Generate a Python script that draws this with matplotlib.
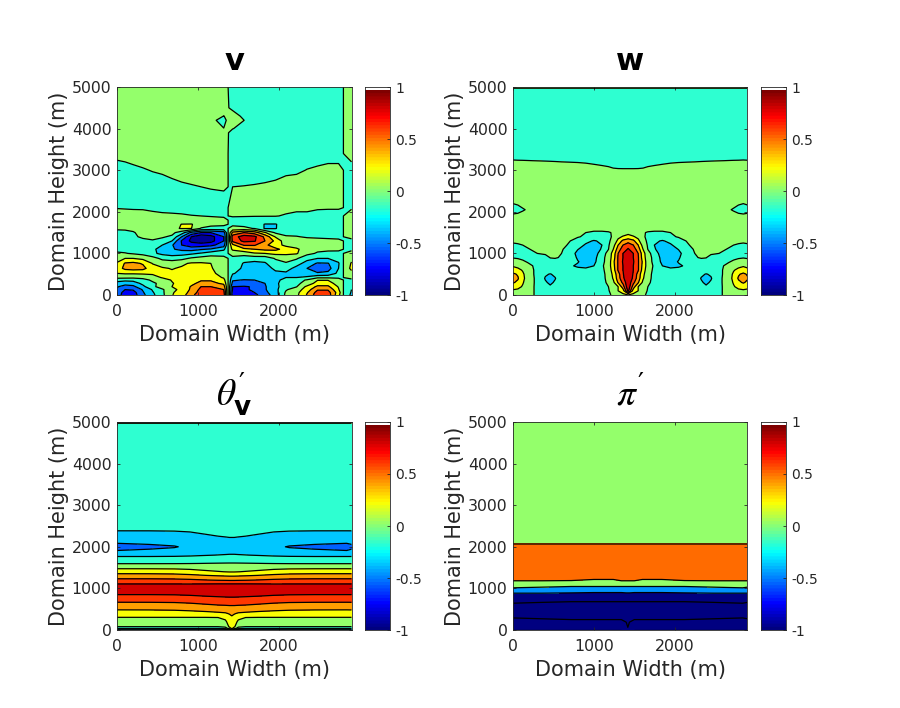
import numpy as np
import matplotlib
matplotlib.use("Agg")
import matplotlib.pyplot as plt
from matplotlib.colors import ListedColormap

plt.rcParams['font.family'] = ['DejaVu Sans']
plt.rcParams['mathtext.fontset'] = 'custom'
plt.rcParams['mathtext.it'] = 'STIXGeneral:italic'
plt.rcParams['mathtext.rm'] = 'DejaVu Sans'
plt.rcParams['mathtext.bf'] = 'DejaVu Sans:bold'

# values, one row per height
v_x = [0, 100, 200, 320, 440, 560, 680, 800, 920, 1040, 1160, 1320, 1374,
       1430, 1570, 1700, 1830, 1960, 2090, 2220, 2350, 2480, 2610, 2740, 2800, 2900]
v_z = [0, 60, 130, 200, 280, 360, 420, 520, 640, 760, 880, 1000, 1100, 1200, 1300, 1400,
       1500, 1600, 1700, 1800, 1900, 2100, 2600, 3000, 3400, 3900, 4000, 4200, 4300, 4500, 5000]
v_vals = [
    [-.5, -.7, -.7, -.45, -.25, -.05, .19, .3, .55, .72, .74, .7, 0, -.72, -.72, -.65, -.5, -.3, .05, .15, .42, .72, .72, .25, 0, -.25],
    [-.48, -.68, -.68, -.42, -.22, -.04, .18, .28, .48, .7, .72, .66, 0, -.68, -.68, -.6, -.45, -.28, .03, .14, .38, .68, .68, .3, 0, -.22],
    [-.42, -.6, -.58, -.38, -.18, -.03, .15, .25, .44, .66, .66, .6, 0, -.62, -.64, -.56, -.42, -.26, -.02, .1, .3, .58, .58, .22, 0, -.2],
    [-.38, -.48, -.45, -.25, -.05, .1, .2, .27, .42, .6, .6, .5, 0, -.6, -.62, -.58, -.42, -.25, -.1, -.01, .25, .44, .44, .18, 0, -.15],
    [-.28, -.32, -.3, -.15, -.03, .05, .19, .25, .35, .46, .46, .36, 0, -.46, -.46, -.44, -.4, -.25, -.08, -.03, .05, .3, .3, .1, 0, -.08],
    [-.12, -.15, -.14, -.06, .03, .14, .21, .22, .3, .38, .38, .26, 0, -.38, -.41, -.4, -.3, -.24, -.15, -.08, .02, .19, .19, .05, 0, -.03],
    [.05, .05, .04, .05, .15, .21, .22, .24, .28, .3, .3, .18, 0, -.3, -.33, -.3, -.28, -.24, -.2, -.2, -.16, -.03, -.03, -.02, 0, .04],
    [.2, .22, .22, .23, .22, .22, .23, .25, .28, .28, .26, .1, 0, -.18, -.28, -.3, -.28, -.22, -.24, -.28, -.34, -.38, -.35, -.15, 0, .12],
    [.3, .45, .48, .46, .28, .22, .19, .22, .26, .26, .22, .08, 0, -.1, -.24, -.27, -.24, -.18, -.1, -.28, -.4, -.5, -.48, -.2, 0, .26],
    [.22, .42, .45, .38, .19, .12, .1, .17, .22, .22, .2, .05, 0, -.05, -.22, -.25, -.22, -.08, -.02, -.1, -.3, -.42, -.41, -.22, 0, .22],
    [.12, .2, .2, .15, .08, -.05, -.08, -.06, .03, .08, .1, .03, 0, -.02, -.1, -.12, -.12, .02, .08, .02, -.12, -.2, -.2, -.12, 0, .15],
    [.03, .01, -.02, -.06, -.16, -.25, -.3, -.28, -.24, -.18, -.1, -.04, 0, .03, .08, .18, .2, .25, .24, .22, .05, -.02, -.04, -.03, 0, .05],
    [-.06, -.06, -.08, -.12, -.15, -.3, -.38, -.45, -.48, -.42, -.38, -.25, 0, .25, .35, .4, .45, .45, .32, .24, .08, .04, .03, .02, 0, -.03],
    [-.1, -.1, -.1, -.1, -.12, -.2, -.38, -.6, -.7, -.7, -.65, -.5, 0, .35, .62, .62, .45, .28, .15, .09, .07, .06, .05, .05, 0, -.05],
    [-.07, -.06, -.05, -.03, -.01, -.06, -.2, -.62, -.85, -.92, -.88, -.6, 0, .65, .85, .82, .6, .35, .08, .06, .07, .06, .05, .04, 0, -.04],
    [-.05, -.04, -.02, .02, .03, .02, -.03, -.4, -.8, -.95, -.88, -.6, 0, .7, .9, .85, .55, .18, .01, .01, -.02, -.03, -.04, -.05, 0, .04],
    [-.04, -.03, -.01, .04, .06, .08, .05, -.1, -.45, -.6, -.6, -.5, 0, .45, .6, .5, .22, -.03, -.03, -.06, -.06, -.06, -.05, -.05, 0, .03],
    [.02, .02, .03, .06, .1, .12, .17, .21, .205, -.02, -.05, -.06, 0, .05, .04, -.01, -.22, -.21, -.1, -.1, -.1, -.08, -.07, -.06, 0, .03],
    [.06, .06, .07, .09, .11, .12, .13, .205, .21, .12, .04, .03, 0, -.03, -.05, -.1, -.21, -.21, -.12, -.12, -.11, -.1, -.09, -.08, 0, .05],
    [.08, .08, .08, .08, .07, .07, .06, .06, .05, .04, .03, .02, 0, -.02, -.03, -.05, -.06, -.07, -.08, -.08, -.08, -.08, -.08, -.08, 0, .06],
    [.04, .04, .035, .03, .025, .02, .015, .01, .003, 0, -.005, -.01, 0, .005, .005, .005, .005, .005, -.01, -.02, -.03, -.03, -.04, -.04, 0, .04],
    [-.005, -.008, -.01, -.01, -.02, -.03, -.03, -.03, -.03, -.04, -.04, -.04, 0, .03, .03, .03, .03, .03, .03, .02, .03, .01, .01, .01, 0, -.01],
    [-.03, -.03, -.03, -.03, -.03, -.03, -.03, -.02, -.01, 0, .005, .01, 0, 0, .002, .005, .01, .02, .03, .03, .03, .03, .03, .03, 0, -.03],
    [-.03, -.02, -.01, -.005, .003, .01, .03, .05, .06, .06, .06, .06, 0, -.03, -.03, -.03, -.03, -.03, -.015, -.01, .002, .01, .02, .02, 0, -.02],
    [.02, .02, .02, .03, .03, .03, .03, .03, .03, .03, .03, .03, 0, -.03, -.03, -.03, -.03, -.03, -.03, -.03, -.03, -.03, -.03, -.03, 0, .02],
    [.03, .03, .03, .03, .03, .03, .03, .03, .03, .03, .03, .02, .002, -.02, -.03, -.03, -.03, -.03, -.03, -.03, -.03, -.03, -.03, -.03, 0, .03],
    [.03, .03, .03, .03, .03, .03, .03, .03, .03, .03, .03, .002, .01, .002, -.02, -.03, -.03, -.03, -.03, -.03, -.03, -.03, -.03, -.03, 0, .03],
    [.03, .03, .03, .03, .03, .03, .03, .03, .03, .03, .02, -.028, .021, .03, .0005, -.03, -.03, -.03, -.03, -.03, -.03, -.03, -.03, -.03, 0, .03],
    [.03, .03, .03, .03, .03, .03, .03, .03, .03, .03, .03, -.001, .01, .02, -.01, -.03, -.03, -.03, -.03, -.03, -.03, -.03, -.03, -.03, 0, .03],
    [.03, .03, .03, .03, .03, .03, .03, .03, .03, .03, .03, .02, .002, -.01, -.03, -.03, -.03, -.03, -.03, -.03, -.03, -.03, -.03, -.03, 0, .03],
    [.02, .02, .02, .02, .02, .02, .02, .02, .02, .02, .02, .02, 0, -.02, -.02, -.02, -.02, -.02, -.02, -.02, -.02, -.02, -.02, -.02, 0, .02],
]

# w, theta and pi are symmetric, so only the left half is listed
w_x = [0, 60, 120, 180, 240, 300, 400, 460, 520, 600, 700, 800, 900, 1000, 1100, 1180, 1240, 1300, 1360, 1424]
w_z = [0, 100, 200, 300, 400, 500, 600, 700, 800, 900, 1000, 1100, 1200, 1300, 1400, 1500,
       1600, 1800, 1950, 2050, 2200, 3000, 3300, 4900, 5000]
w_vals = [
    [.12, .1, .07, .04, .01, -.02, -.1, -.12, -.1, -.08, -.07, -.07, -.07, -.07, -.05, -.02, .02, .08, .15, .2],
    [.17, .15, .12, .06, .015, -.03, -.12, -.16, -.12, -.08, -.07, -.07, -.07, -.07, -.05, -.01, .05, .2, .3, .85],
    [.28, .26, .18, .08, .02, -.04, -.14, -.18, -.13, -.08, -.07, -.07, -.08, -.07, -.05, 0, .08, .2, .5, .95],
    [.42, .36, .22, .1, .03, -.05, -.18, -.23, -.18, -.1, -.08, -.08, -.08, -.08, -.05, .03, .15, .42, .65, .95],
    [.48, .42, .26, .1, .03, -.05, -.215, -.26, -.21, -.1, -.09, -.09, -.09, -.09, -.05, .05, .22, .5, .75, .99],
    [.44, .38, .24, .09, .02, -.05, -.18, -.21, -.17, -.1, -.1, -.1, -.1, -.1, -.05, .06, .25, .52, .78, .99],
    [.3, .26, .18, .07, .015, -.04, -.1, -.1, -.09, -.1, -.13, -.16, -.16, -.14, -.04, .08, .3, .62, .8, .99],
    [.18, .14, .1, .04, .002, -.03, -.07, -.08, -.08, -.1, -.18, -.22, -.24, -.2, -.03, .1, .33, .62, .8, .99],
    [.08, .06, .02, -.01, -.03, -.05, -.06, -.05, -.04, -.06, -.12, -.19, -.26, -.25, -.05, .08, .35, .62, .82, .99],
    [-.01, -.02, -.03, -.03, -.04, -.05, -.05, .005, .01, -.01, -.1, -.22, -.28, -.27, -.06, .08, .3, .62, .8, .98],
    [-.04, -.04, -.04, -.03, -.01, 0, .02, .03, .03, 0, -.08, -.26, -.3, -.3, -.1, .07, .28, .6, .8, .95],
    [-.04, -.03, -.02, -.005, .005, .01, .02, .03, .03, .01, -.04, -.19, -.3, -.3, -.18, -.005, .2, .5, .7, .82],
    [-.01, -.005, 0, .01, .01, .02, .03, .03, .04, .04, -.02, -.1, -.23, -.28, -.2, -.02, .12, .4, .6, .72],
    [.01, .01, .02, .03, .04, .05, .06, .06, .06, .05, .005, -.05, -.14, -.22, -.16, -.03, .06, .25, .45, .5],
    [.03, .03, .03, .04, .05, .06, .07, .07, .07, .06, .03, .01, -.02, -.05, -.06, -.03, .02, .15, .22, .3],
    [.04, .04, .05, .05, .06, .07, .07, .07, .07, .07, .05, .04, 0, -.01, -.01, -.005, .005, .06, .1, .12],
    [.05, .05, .05, .05, .05, .05, .05, .05, .05, .05, .05, .05, .03, .02, .02, .02, .04, .06, .08, .08],
    [.05, .05, .05, .05, .05, .05, .05, .05, .05, .05, .05, .05, .05, .05, .05, .05, .05, .05, .05, .05],
    [-.001, .005, .02, .03, .04, .05, .05, .05, .05, .05, .05, .05, .05, .05, .05, .05, .05, .05, .05, .05],
    [-.04, -.03, -.01, .01, .03, .05, .05, .05, .05, .05, .05, .05, .05, .05, .05, .05, .05, .05, .05, .05],
    [.001, .01, .03, .04, .05, .05, .05, .05, .05, .05, .05, .05, .05, .05, .05, .05, .05, .05, .05, .05],
    [.045, .04, .038, .035, .032, .03, .027, .025, .023, .02, .018, .016, .013, .009, .006, .004, .002, .0015, .0014, .0014],
    [-.01, -.01, -.01, -.01, -.01, -.01, -.01, -.01, -.01, -.01, -.01, -.01, -.01, -.01, -.01, -.01, -.01, -.01, -.01, -.01],
    [-.05, -.05, -.05, -.05, -.05, -.05, -.05, -.05, -.05, -.05, -.05, -.05, -.05, -.05, -.05, -.05, -.05, -.05, -.05, -.05],
    [.02, .02, .02, .02, .02, .02, .02, .02, .02, .02, .02, .02, .02, .02, .02, .02, .02, .02, .02, .02],
]

th_x = [0, 400, 710, 900, 1100, 1250, 1340, 1390, 1420]
th_z = [0, 40, 80, 200, 300, 400, 500, 600, 700, 800, 900, 1000, 1100, 1200, 1300, 1400, 1500,
        1600, 1700, 1800, 1900, 2000, 2100, 2200, 2300, 2400, 2500, 4960, 5000]
th_vals = [
    [-.6, -.6, -.6, -.6, -.6, -.6, -.6, -.4, -.2],
    [-.15, -.15, -.15, -.15, -.15, -.15, -.1, .1, .25],
    [0, 0, 0, 0, 0, 0, .04, .23, .28],
    [.106, .106, .11, .11, .11, .12, .17, .27, .32],
    [.195, .195, .195, .195, .195, .2, .24, .32, .37],
    [.306, .31, .31, .32, .33, .36, .38, .42, .445],
    [.418, .42, .43, .45, .49, .51, .525, .53, .53],
    [.526, .528, .535, .55, .58, .6, .605, .61, .61],
    [.636, .637, .643, .66, .684, .7, .706, .71, .71],
    [.75, .75, .756, .77, .79, .8, .807, .81, .81],
    [.85, .85, .853, .86, .87, .875, .88, .88, .88],
    [.9, .9, .9, .9, .9, .9, .9, .9, .9],
    [.81, .81, .81, .81, .815, .82, .82, .82, .82],
    [.65, .65, .643, .63, .605, .59, .585, .58, .58],
    [.49, .49, .48, .46, .425, .405, .395, .39, .39],
    [.32, .317, .307, .28, .235, .21, .197, .19, .19],
    [.155, .154, .15, .14, .12, .108, .103, .1, .1],
    [-.01, -.01, -.008, -.004, .003, .007, .009, .01, .01],
    [-.12, -.12, -.117, -.11, -.1, -.095, -.09, -.09, -.09],
    [-.24, -.24, -.235, -.225, -.208, -.197, -.192, -.19, -.19],
    [-.39, -.37, -.36, -.345, -.29, -.26, -.25, -.24, -.24],
    [-.48, -.44, -.41, -.37, -.31, -.29, -.28, -.27, -.27],
    [-.385, -.37, -.36, -.34, -.3, -.28, -.265, -.26, -.26],
    [-.32, -.318, -.31, -.287, -.25, -.225, -.215, -.21, -.21],
    [-.255, -.253, -.247, -.23, -.2, -.18, -.175, -.17, -.17],
    [-.19, -.19, -.186, -.178, -.165, -.156, -.152, -.15, -.15],
    [-.16, -.16, -.157, -.15, -.14, -.135, -.132, -.13, -.13],
    [-.1, -.1, -.1, -.1, -.1, -.1, -.1, -.1, -.1],
    [.3, .3, .3, .3, .3, .3, .3, .3, .3],
]

pi_x = [0, 360, 720, 1000, 1240, 1340, 1400, 1420]
pi_z = [0, 64, 250, 290, 644, 684, 885, 900, 1014, 1046, 1183, 1215, 2060, 2090, 5000]
pi_vals = [
    [-3, -3, -3, -3, -3, -3, -2.5, -2.5],
    [-2.8, -2.8, -2.7, -2.7, -2.7, -2.7, -2.3, -2],
    [-2.1, -2.05, -2, -2, -2, -2, -1.85, -1.85],
    [-2, -1.95, -1.9, -1.9, -1.9, -1.9, -1.8, -1.8],
    [-1, -1.05, -1.1, -1.1, -1.1, -1.1, -1.1, -1.1],
    [-.9, -.95, -.99, -.99, -.99, -.99, -.99, -.99],
    [-.4, -.4, -.42, -.42, -.42, -.42, -.42, -.42],
    [-.36, -.36, -.38, -.4, -.4, -.4, -.38, -.38],
    [0, -.02, -.05, -.06, -.06, -.06, -.05, -.05],
    [.05, .02, 0, 0, 0, 0, 0, 0],
    [.4, .4, .39, .35, .36, .4, .4, .4],
    [.5, .5, .45, .4, .4, .5, .5, .5],
    [.5, .5, .5, .5, .5, .5, .5, .5],
    [.1, .1, .1, .1, .1, .1, .1, .1],
    [.1, .1, .1, .1, .1, .1, .1, .1],
]

field_levels = [-1, -.8, -.6, -.4, -.2, 0, .2, .4, .6, .8, 1]
pi_levels = [-3, -2, -1, -.4, 0, .4, 1]
pi_shades = [0, 0, 0, .27, .52, .77]
y_ticks = [0, 1000, 2000, 3000, 4000, 5000]
x_ticks = [0, 1000, 2000]
cbar_ticks = [-1, -.5, 0, .5, 1]
x_end = 2900


def jet_colour(t):
    # matlab's jet, the matplotlib one has different break points
    r = np.clip(min(4 * t - 1.5, -4 * t + 4.5), 0, 1)
    g = np.clip(min(4 * t - 0.5, -4 * t + 3.5), 0, 1)
    b = np.clip(min(4 * t + 0.5, -4 * t + 2.5), 0, 1)
    return (r, g, b)


jet_map = ListedColormap([jet_colour(t) for t in np.linspace(0, 1, 64)])


def mirror(x, vals):
    # unfold a left half about its last column, one more column past the period
    x = np.array(x, float)
    vals = np.array(vals, float)
    x2 = np.hstack([x, 2 * x[-1] - x[-2::-1], x_end])
    vals2 = np.hstack([vals, vals[:, -2::-1], vals[:, [1]]])
    return x2, vals2


def panel(left, top, x, z, vals, title, levels=field_levels, shades=None, title_size=22):
    ax = fig.add_axes([left / 900, 1 - (top + 208) / 708, 234.5 / 900, 208 / 708])
    if shades is None:
        shades = [(l + 1) / 2 + .02 for l in levels[:-1]]
    colors = [jet_colour(s) for s in shades]
    ax.contourf(x, z, vals, levels=levels, colors=colors)
    ax.contour(x, z, vals, levels=levels, colors='k', linewidths=0.9, linestyles='solid')
    ax.set_xlim(0, x_end)
    ax.set_ylim(0, 5000)
    ax.set_xticks(x_ticks)
    ax.set_yticks(y_ticks)
    ax.tick_params(direction='in', length=2.2, width=0.6, top=True, right=True, labelsize=11.3,
                   colors='#262626', pad=4)
    ax.tick_params(axis='x', pad=6.5)
    ax.set_xlabel('Domain Width (m)', fontsize=15, color='#262626', labelpad=4)
    ax.set_ylabel('Domain Height (m)', fontsize=15, color='#262626', labelpad=2)
    ax.set_title(title, fontsize=title_size, fontweight='bold', pad=12)
    for s in ax.spines.values():
        s.set_linewidth(0.6)
        s.set_color('#262626')

    # colour bar, white cap at the top like the original
    cax = fig.add_axes([(left + 248) / 900, 1 - (top + 208) / 708, 25 / 900, 208 / 708])
    cax.imshow(np.linspace(0, 1, 256)[:, None], extent=[0, 1, -1, .965], origin='lower',
               aspect='auto', cmap=jet_map)
    cax.set_ylim(-1, 1)
    cax.set_xlim(0, 1)
    cax.set_xticks([])
    cax.yaxis.tick_right()
    cax.set_yticks(cbar_ticks)
    cax.set_yticklabels(['-1', '-0.5', '0', '0.5', '1'])
    cax.tick_params(direction='in', length=2.2, width=0.6, left=False, labelsize=10,
                    colors='#262626', pad=4)
    for s in cax.spines.values():
        s.set_linewidth(0.6)
        s.set_color('#262626')


fig = plt.figure(figsize=(9, 7.08), dpi=100)

panel(117, 87, v_x, v_z, v_vals, 'v')
x2, w2 = mirror(w_x, w_vals)
panel(513, 87, x2, w_z, w2, 'w')
x2, th2 = mirror(th_x, th_vals)
panel(117, 422, x2, th_z, th2, r"$\theta^{\prime}_{\mathbf{v}}$", title_size=27)
x2, pi2 = mirror(pi_x, pi_vals)
panel(513, 422, x2, pi_z, pi2, r"$\pi^{\prime}$", levels=pi_levels, shades=pi_shades, title_size=27)

fig.savefig('out.png', dpi=100)
